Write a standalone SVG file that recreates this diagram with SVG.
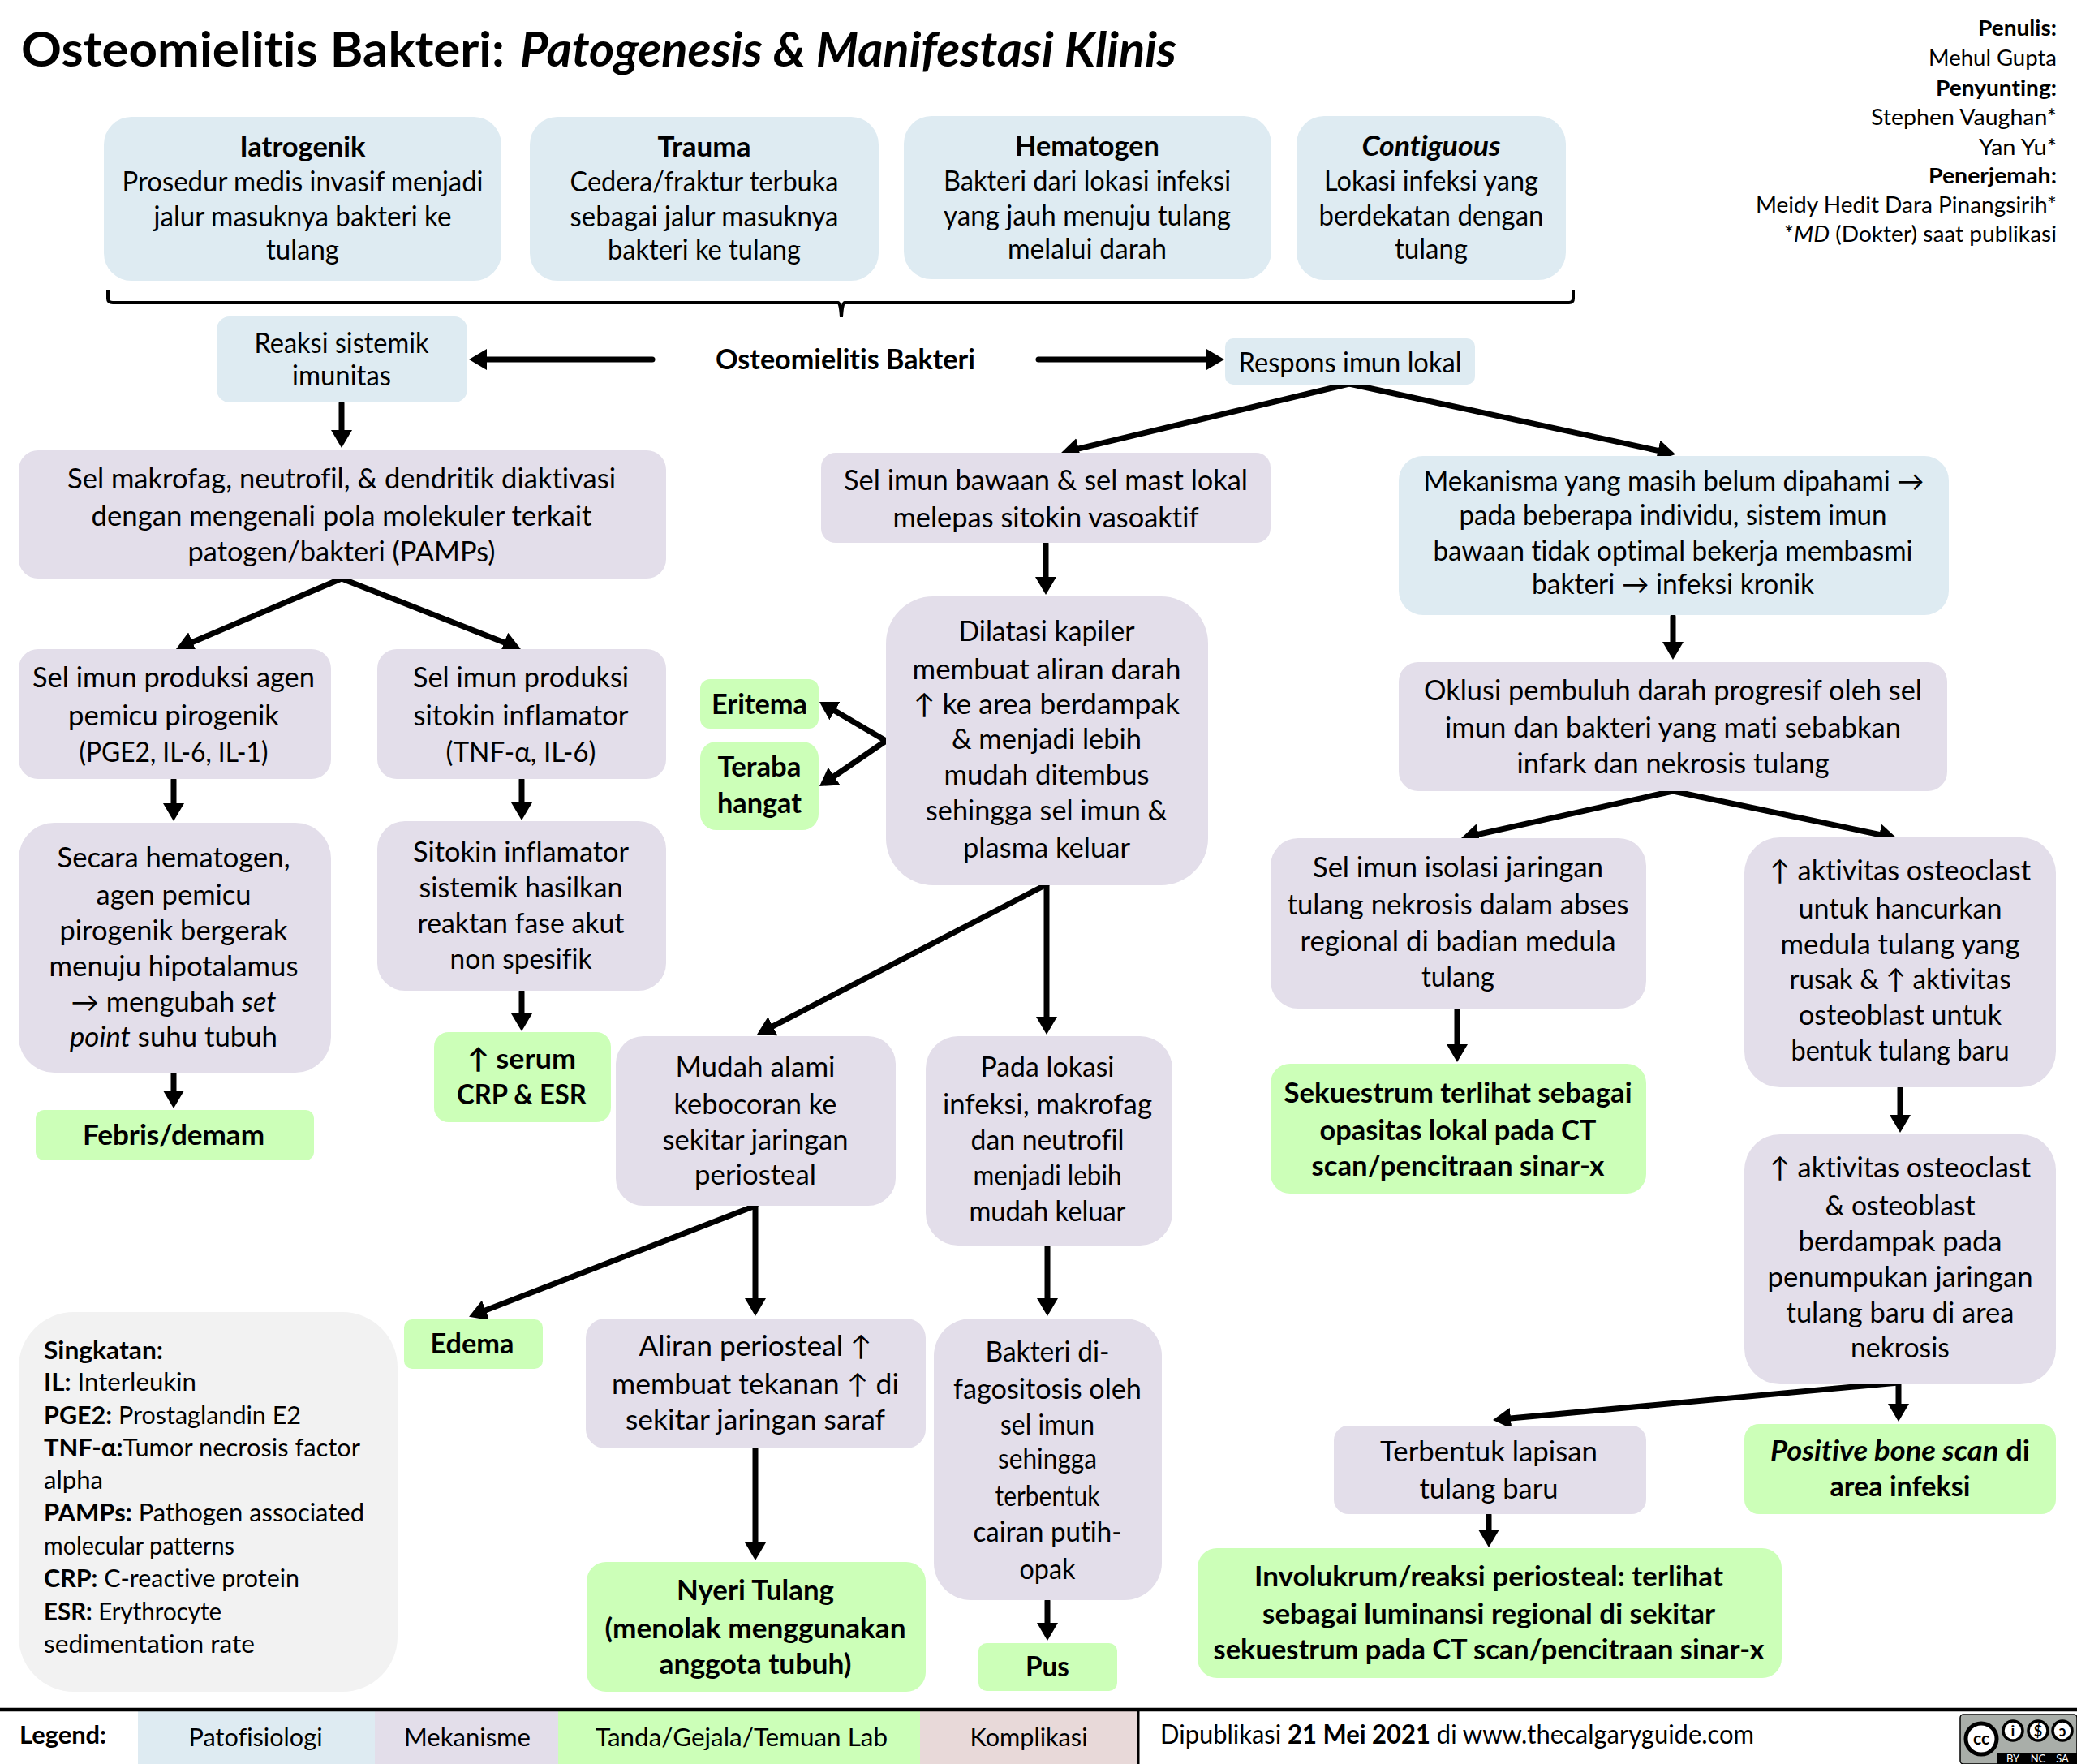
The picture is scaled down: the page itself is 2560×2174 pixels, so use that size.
<svg xmlns="http://www.w3.org/2000/svg" width="2560" height="2174" viewBox="0 0 2560 2174">
<style>
text{font-family:"Lato","Liberation Sans","DejaVu Sans",sans-serif;font-size:34px;fill:#000;text-anchor:middle;font-variant-ligatures:none}
.b,.bt{font-weight:700}
.i{font-style:italic}
.bi{font-weight:700;font-style:italic}
.l{text-anchor:start}
.r{text-anchor:end;font-size:27px}
.s{font-size:30px;text-anchor:start}
.blue{fill:#deebf2}.pur{fill:#e3deea}.grn{fill:#ccffb8}.red{fill:#e8d9d9}.gry{fill:#f2f2f2}
.c{fill:none;stroke:#000;stroke-width:7;stroke-linecap:round;marker-end:url(#ah)}
.k{fill:none;stroke:#000;stroke-width:4}
.w{fill:#fff;stroke:#000;stroke-width:3.5}
</style>
<defs>
<marker id="ah" markerUnits="userSpaceOnUse" markerWidth="24" markerHeight="26" refX="6" refY="13" orient="auto"><path d="M0,0L22,13L0,26z" fill="#000"/></marker>
</defs>
<rect width="2560" height="2174" fill="#fff"/>

<g id="title">
<text x="26" y="82" class="l b" style="font-size:60px" textLength="596" lengthAdjust="spacingAndGlyphs">Osteomielitis Bakteri:</text>
<text x="641" y="82" class="l bi" style="font-size:60px" textLength="809" lengthAdjust="spacingAndGlyphs">Patogenesis &amp; Manifestasi Klinis</text>
</g>

<g id="credits">
<text x="2535" y="44" class="r b" textLength="97" lengthAdjust="spacingAndGlyphs">Penulis:</text>
<text x="2535" y="81" class="r" textLength="158" lengthAdjust="spacingAndGlyphs">Mehul Gupta</text>
<text x="2535" y="118" class="r b" textLength="149" lengthAdjust="spacingAndGlyphs">Penyunting:</text>
<text x="2535" y="154" class="r" textLength="229" lengthAdjust="spacingAndGlyphs">Stephen Vaughan*</text>
<text x="2535" y="191" class="r" textLength="96" lengthAdjust="spacingAndGlyphs">Yan Yu*</text>
<text x="2535" y="226" class="r b" textLength="158" lengthAdjust="spacingAndGlyphs">Penerjemah:</text>
<text x="2535" y="262" class="r" textLength="371" lengthAdjust="spacingAndGlyphs">Meidy Hedit Dara Pinangsirih*</text>
<text x="2535" y="298" class="r" textLength="336" lengthAdjust="spacingAndGlyphs">*<tspan class="i">MD</tspan> (Dokter) saat publikasi</text>
</g>

<g id="connectors">
<path class="k" d="M133,357V368Q133,373 139,373H1033Q1036,373 1037,391Q1038,373 1041,373H1934Q1939,373 1939,368V357"/>
<path class="c" d="M804,443H594"/>
<path class="c" d="M1280,443H1493"/>
<path class="c" d="M1663,473L1323.6,554.3"/>
<path class="c" d="M1663,473L2049.4,556.6"/>
<path class="c" d="M421,497V536"/>
<path class="c" d="M421,713L231.7,793.7"/>
<path class="c" d="M421,713L627,794"/>
<path class="c" d="M214,961V996"/>
<path class="c" d="M643,961V995"/>
<path class="c" d="M214,1323V1350"/>
<path class="c" d="M643,1222V1255"/>
<path class="c" d="M1289,670V717"/>
<path class="c" d="M1092,913L1023.8,873.1"/>
<path class="c" d="M1092,913L1023.2,960"/>
<path class="c" d="M1290,1090L947.2,1267.6"/>
<path class="c" d="M1290,1090V1259"/>
<path class="c" d="M931,1486L593,1617"/>
<path class="c" d="M931,1486V1606"/>
<path class="c" d="M931,1785V1907"/>
<path class="c" d="M1291,1536V1606"/>
<path class="c" d="M1291,1973V2006"/>
<path class="c" d="M2062,760V797"/>
<path class="c" d="M2062,975L1816.6,1029.5"/>
<path class="c" d="M2062,975L2322.3,1029.7"/>
<path class="c" d="M1796,1244V1293"/>
<path class="c" d="M2342,1341V1380"/>
<path class="c" d="M2340,1704L1856,1748.5"/>
<path class="c" d="M2340,1704V1736"/>
<path class="c" d="M1835,1867V1891"/>
</g>

<g id="n-iatrogenik"><rect class="blue" x="128" y="144" width="490" height="202" rx="34"/>
<text x="373" y="193" class="b" textLength="155" lengthAdjust="spacingAndGlyphs">Iatrogenik</text>
<text x="373" y="236" textLength="445" lengthAdjust="spacingAndGlyphs">Prosedur medis invasif menjadi</text>
<text x="373" y="279" textLength="367" lengthAdjust="spacingAndGlyphs">jalur masuknya bakteri ke</text>
<text x="373" y="320" textLength="90" lengthAdjust="spacingAndGlyphs">tulang</text></g>

<g id="n-trauma"><rect class="blue" x="653" y="144" width="430" height="202" rx="34"/>
<text x="868" y="193" class="b" textLength="115" lengthAdjust="spacingAndGlyphs">Trauma</text>
<text x="868" y="236" textLength="331" lengthAdjust="spacingAndGlyphs">Cedera/fraktur terbuka</text>
<text x="868" y="279" textLength="331" lengthAdjust="spacingAndGlyphs">sebagai jalur masuknya</text>
<text x="868" y="320" textLength="238" lengthAdjust="spacingAndGlyphs">bakteri ke tulang</text></g>

<g id="n-hematogen"><rect class="blue" x="1114" y="143" width="453" height="201" rx="34"/>
<text x="1340" y="192" class="b" textLength="178" lengthAdjust="spacingAndGlyphs">Hematogen</text>
<text x="1340" y="235" textLength="354" lengthAdjust="spacingAndGlyphs">Bakteri dari lokasi infeksi</text>
<text x="1340" y="278" textLength="354" lengthAdjust="spacingAndGlyphs">yang jauh menuju tulang</text>
<text x="1340" y="319" textLength="196" lengthAdjust="spacingAndGlyphs">melalui darah</text></g>

<g id="n-contiguous"><rect class="blue" x="1598" y="143" width="332" height="202" rx="34"/>
<text x="1764" y="192" class="bi" textLength="171" lengthAdjust="spacingAndGlyphs">Contiguous</text>
<text x="1764" y="235" textLength="264" lengthAdjust="spacingAndGlyphs">Lokasi infeksi yang</text>
<text x="1764" y="278" textLength="277" lengthAdjust="spacingAndGlyphs">berdekatan dengan</text>
<text x="1764" y="319" textLength="90" lengthAdjust="spacingAndGlyphs">tulang</text></g>

<g id="n-reaksi"><rect class="blue" x="267" y="390" width="309" height="106" rx="16"/>
<text x="421" y="435" textLength="215" lengthAdjust="spacingAndGlyphs">Reaksi sistemik</text>
<text x="421" y="475" textLength="122" lengthAdjust="spacingAndGlyphs">imunitas</text></g>

<g id="n-osteo"><text x="1042" y="455" class="b" textLength="320" lengthAdjust="spacingAndGlyphs">Osteomielitis Bakteri</text></g>

<g id="n-respons"><rect class="blue" x="1510" y="417" width="308" height="57" rx="10"/>
<text x="1664" y="459" textLength="275" lengthAdjust="spacingAndGlyphs">Respons imun lokal</text></g>

<g id="n-makrofag"><rect class="pur" x="23" y="555" width="798" height="158" rx="24"/>
<text x="421" y="602" textLength="676" lengthAdjust="spacingAndGlyphs">Sel makrofag, neutrofil, &amp; dendritik diaktivasi</text>
<text x="421" y="648" textLength="617" lengthAdjust="spacingAndGlyphs">dengan mengenali pola molekuler terkait</text>
<text x="421" y="692" textLength="379" lengthAdjust="spacingAndGlyphs">patogen/bakteri (PAMPs)</text></g>

<g id="n-bawaan"><rect class="pur" x="1012" y="558" width="554" height="111" rx="18"/>
<text x="1289" y="604" textLength="498" lengthAdjust="spacingAndGlyphs">Sel imun bawaan &amp; sel mast lokal</text>
<text x="1289" y="650" textLength="377" lengthAdjust="spacingAndGlyphs">melepas sitokin vasoaktif</text></g>

<g id="n-mekanisma"><rect class="blue" x="1724" y="562" width="678" height="196" rx="30"/>
<text x="2063" y="605" textLength="617" lengthAdjust="spacingAndGlyphs">Mekanisma yang masih belum dipahami →</text>
<text x="2062" y="647" textLength="527" lengthAdjust="spacingAndGlyphs">pada beberapa individu, sistem imun</text>
<text x="2062" y="691" textLength="591" lengthAdjust="spacingAndGlyphs">bawaan tidak optimal bekerja membasmi</text>
<text x="2062" y="732" textLength="348" lengthAdjust="spacingAndGlyphs">bakteri → infeksi kronik</text></g>

<g id="n-pirogenik"><rect class="pur" x="23" y="800" width="385" height="160" rx="24"/>
<text x="214" y="847" textLength="348" lengthAdjust="spacingAndGlyphs">Sel imun produksi agen</text>
<text x="214" y="894" textLength="260" lengthAdjust="spacingAndGlyphs">pemicu pirogenik</text>
<text x="214" y="939" textLength="233" lengthAdjust="spacingAndGlyphs">(PGE2, IL-6, IL-1)</text></g>

<g id="n-sitokin"><rect class="pur" x="465" y="800" width="356" height="160" rx="24"/>
<text x="642" y="847" textLength="266" lengthAdjust="spacingAndGlyphs">Sel imun produksi</text>
<text x="642" y="894" textLength="265" lengthAdjust="spacingAndGlyphs">sitokin inflamator</text>
<text x="642" y="939" textLength="185" lengthAdjust="spacingAndGlyphs">(TNF-α, IL-6)</text></g>

<g id="n-secara"><rect class="pur" x="23" y="1014" width="385" height="308" rx="44"/>
<text x="214" y="1069" textLength="287" lengthAdjust="spacingAndGlyphs">Secara hematogen,</text>
<text x="214" y="1115" textLength="191" lengthAdjust="spacingAndGlyphs">agen pemicu</text>
<text x="214" y="1159" textLength="281" lengthAdjust="spacingAndGlyphs">pirogenik bergerak</text>
<text x="214" y="1203" textLength="307" lengthAdjust="spacingAndGlyphs">menuju hipotalamus</text>
<text x="214" y="1247" textLength="253" lengthAdjust="spacingAndGlyphs">→ mengubah <tspan class="i">set</tspan></text>
<text x="214" y="1290" textLength="256" lengthAdjust="spacingAndGlyphs"><tspan class="i">point</tspan> suhu tubuh</text></g>

<g id="n-febris"><rect class="grn" x="44" y="1368" width="343" height="62" rx="10"/>
<text x="214" y="1411" class="b" textLength="224" lengthAdjust="spacingAndGlyphs">Febris/demam</text></g>

<g id="n-sistemik"><rect class="pur" x="465" y="1012" width="356" height="209" rx="34"/>
<text x="642" y="1062" textLength="266" lengthAdjust="spacingAndGlyphs">Sitokin inflamator</text>
<text x="642" y="1106" textLength="251" lengthAdjust="spacingAndGlyphs">sistemik hasilkan</text>
<text x="642" y="1150" textLength="255" lengthAdjust="spacingAndGlyphs">reaktan fase akut</text>
<text x="642" y="1194" textLength="175" lengthAdjust="spacingAndGlyphs">non spesifik</text></g>

<g id="n-serum"><rect class="grn" x="535" y="1272" width="218" height="111" rx="18"/>
<text x="643" y="1317" class="b" textLength="134" lengthAdjust="spacingAndGlyphs">↑ serum</text>
<text x="643" y="1361" class="b" textLength="160" lengthAdjust="spacingAndGlyphs">CRP &amp; ESR</text></g>

<g id="n-eritema"><rect class="grn" x="863" y="837" width="146" height="61" rx="12"/>
<text x="936" y="880" class="b" textLength="118" lengthAdjust="spacingAndGlyphs">Eritema</text></g>

<g id="n-teraba"><rect class="grn" x="863" y="914" width="146" height="109" rx="20"/>
<text x="936" y="957" class="b" textLength="103" lengthAdjust="spacingAndGlyphs">Teraba</text>
<text x="936" y="1002" class="b" textLength="104" lengthAdjust="spacingAndGlyphs">hangat</text></g>

<g id="n-dilatasi"><rect class="pur" x="1092" y="735" width="397" height="356" rx="58"/>
<text x="1290" y="790" textLength="217" lengthAdjust="spacingAndGlyphs">Dilatasi kapiler</text>
<text x="1290" y="837" textLength="331" lengthAdjust="spacingAndGlyphs">membuat aliran darah</text>
<text x="1290" y="880" textLength="328" lengthAdjust="spacingAndGlyphs">↑ ke area berdampak</text>
<text x="1290" y="923" textLength="234" lengthAdjust="spacingAndGlyphs">&amp; menjadi lebih</text>
<text x="1290" y="967" textLength="253" lengthAdjust="spacingAndGlyphs">mudah ditembus</text>
<text x="1290" y="1011" textLength="298" lengthAdjust="spacingAndGlyphs">sehingga sel imun &amp;</text>
<text x="1290" y="1057" textLength="206" lengthAdjust="spacingAndGlyphs">plasma keluar</text></g>

<g id="n-mudah"><rect class="pur" x="759" y="1277" width="345" height="209" rx="34"/>
<text x="931" y="1327" textLength="197" lengthAdjust="spacingAndGlyphs">Mudah alami</text>
<text x="931" y="1373" textLength="201" lengthAdjust="spacingAndGlyphs">kebocoran ke</text>
<text x="931" y="1417" textLength="229" lengthAdjust="spacingAndGlyphs">sekitar jaringan</text>
<text x="931" y="1460" textLength="150" lengthAdjust="spacingAndGlyphs">periosteal</text></g>

<g id="n-pada"><rect class="pur" x="1141" y="1277" width="304" height="258" rx="40"/>
<text x="1291" y="1327" textLength="165" lengthAdjust="spacingAndGlyphs">Pada lokasi</text>
<text x="1291" y="1373" textLength="258" lengthAdjust="spacingAndGlyphs">infeksi, makrofag</text>
<text x="1291" y="1417" textLength="189" lengthAdjust="spacingAndGlyphs">dan neutrofil</text>
<text x="1291" y="1461" textLength="183" lengthAdjust="spacingAndGlyphs">menjadi lebih</text>
<text x="1291" y="1505" textLength="193" lengthAdjust="spacingAndGlyphs">mudah keluar</text></g>

<g id="n-edema"><rect class="grn" x="498" y="1626" width="171" height="61" rx="10"/>
<text x="582" y="1668" class="b" textLength="103" lengthAdjust="spacingAndGlyphs">Edema</text></g>

<g id="n-aliran"><rect class="pur" x="722" y="1625" width="419" height="160" rx="24"/>
<text x="931" y="1671" textLength="287" lengthAdjust="spacingAndGlyphs">Aliran periosteal ↑</text>
<text x="931" y="1718" textLength="354" lengthAdjust="spacingAndGlyphs">membuat tekanan ↑ di</text>
<text x="931" y="1762" textLength="320" lengthAdjust="spacingAndGlyphs">sekitar jaringan saraf</text></g>

<g id="n-nyeri"><rect class="grn" x="723" y="1925" width="418" height="160" rx="24"/>
<text x="931" y="1972" class="b" textLength="194" lengthAdjust="spacingAndGlyphs">Nyeri Tulang</text>
<text x="931" y="2019" class="b" textLength="371" lengthAdjust="spacingAndGlyphs">(menolak menggunakan</text>
<text x="931" y="2063" class="b" textLength="237" lengthAdjust="spacingAndGlyphs">anggota tubuh)</text></g>

<g id="n-fagositosis"><rect class="pur" x="1151" y="1625" width="281" height="347" rx="46"/>
<text x="1291" y="1678" textLength="153" lengthAdjust="spacingAndGlyphs">Bakteri di-</text>
<text x="1291" y="1724" textLength="232" lengthAdjust="spacingAndGlyphs">fagositosis oleh</text>
<text x="1291" y="1768" textLength="116" lengthAdjust="spacingAndGlyphs">sel imun</text>
<text x="1291" y="1810" textLength="122" lengthAdjust="spacingAndGlyphs">sehingga</text>
<text x="1291" y="1856" textLength="129" lengthAdjust="spacingAndGlyphs">terbentuk</text>
<text x="1291" y="1900" textLength="183" lengthAdjust="spacingAndGlyphs">cairan putih-</text>
<text x="1291" y="1946" textLength="69" lengthAdjust="spacingAndGlyphs">opak</text></g>

<g id="n-pus"><rect class="grn" x="1206" y="2025" width="171" height="59" rx="10"/>
<text x="1291" y="2066" class="b" textLength="54" lengthAdjust="spacingAndGlyphs">Pus</text></g>

<g id="n-singkatan"><rect class="gry" x="23" y="1617" width="467" height="468" rx="68"/>
<text x="54" y="1675" class="s b" textLength="147" lengthAdjust="spacingAndGlyphs">Singkatan:</text>
<text x="54" y="1714" class="s" textLength="188" lengthAdjust="spacingAndGlyphs"><tspan class="b">IL:</tspan> Interleukin</text>
<text x="54" y="1755" class="s" textLength="317" lengthAdjust="spacingAndGlyphs"><tspan class="b">PGE2:</tspan> Prostaglandin E2</text>
<text x="54" y="1795" class="s" textLength="390" lengthAdjust="spacingAndGlyphs"><tspan class="b">TNF-α:</tspan>Tumor necrosis factor</text>
<text x="54" y="1835" class="s" textLength="73" lengthAdjust="spacingAndGlyphs">alpha</text>
<text x="54" y="1875" class="s" textLength="395" lengthAdjust="spacingAndGlyphs"><tspan class="b">PAMPs:</tspan> Pathogen associated</text>
<text x="54" y="1916" class="s" textLength="235" lengthAdjust="spacingAndGlyphs">molecular patterns</text>
<text x="54" y="1956" class="s" textLength="315" lengthAdjust="spacingAndGlyphs"><tspan class="b">CRP:</tspan> C-reactive protein</text>
<text x="54" y="1997" class="s" textLength="219" lengthAdjust="spacingAndGlyphs"><tspan class="b">ESR:</tspan> Erythrocyte</text>
<text x="54" y="2037" class="s" textLength="260" lengthAdjust="spacingAndGlyphs">sedimentation rate</text></g>

<g id="n-oklusi"><rect class="pur" x="1724" y="816" width="676" height="159" rx="24"/>
<text x="2062" y="863" textLength="614" lengthAdjust="spacingAndGlyphs">Oklusi pembuluh darah progresif oleh sel</text>
<text x="2062" y="909" textLength="562" lengthAdjust="spacingAndGlyphs">imun dan bakteri yang mati sebabkan</text>
<text x="2062" y="953" textLength="385" lengthAdjust="spacingAndGlyphs">infark dan nekrosis tulang</text></g>

<g id="n-isolasi"><rect class="pur" x="1566" y="1033" width="463" height="210" rx="34"/>
<text x="1797" y="1081" textLength="358" lengthAdjust="spacingAndGlyphs">Sel imun isolasi jaringan</text>
<text x="1797" y="1127" textLength="421" lengthAdjust="spacingAndGlyphs">tulang nekrosis dalam abses</text>
<text x="1797" y="1172" textLength="389" lengthAdjust="spacingAndGlyphs">regional di badian medula</text>
<text x="1797" y="1216" textLength="90" lengthAdjust="spacingAndGlyphs">tulang</text></g>

<g id="n-sekuestrum"><rect class="grn" x="1566" y="1311" width="463" height="160" rx="24"/>
<text x="1797" y="1359" class="b" textLength="429" lengthAdjust="spacingAndGlyphs">Sekuestrum terlihat sebagai</text>
<text x="1797" y="1405" class="b" textLength="341" lengthAdjust="spacingAndGlyphs">opasitas lokal pada CT</text>
<text x="1797" y="1449" class="b" textLength="361" lengthAdjust="spacingAndGlyphs">scan/pencitraan sinar-x</text></g>

<g id="n-osteoclast1"><rect class="pur" x="2150" y="1032" width="384" height="308" rx="44"/>
<text x="2342" y="1085" textLength="322" lengthAdjust="spacingAndGlyphs">↑ aktivitas osteoclast</text>
<text x="2342" y="1132" textLength="251" lengthAdjust="spacingAndGlyphs">untuk hancurkan</text>
<text x="2342" y="1176" textLength="295" lengthAdjust="spacingAndGlyphs">medula tulang yang</text>
<text x="2342" y="1219" textLength="273" lengthAdjust="spacingAndGlyphs">rusak &amp; ↑ aktivitas</text>
<text x="2342" y="1263" textLength="250" lengthAdjust="spacingAndGlyphs">osteoblast untuk</text>
<text x="2342" y="1307" textLength="269" lengthAdjust="spacingAndGlyphs">bentuk tulang baru</text></g>

<g id="n-osteoclast2"><rect class="pur" x="2150" y="1398" width="384" height="308" rx="44"/>
<text x="2342" y="1451" textLength="322" lengthAdjust="spacingAndGlyphs">↑ aktivitas osteoclast</text>
<text x="2342" y="1498" textLength="185" lengthAdjust="spacingAndGlyphs">&amp; osteoblast</text>
<text x="2342" y="1542" textLength="251" lengthAdjust="spacingAndGlyphs">berdampak pada</text>
<text x="2342" y="1586" textLength="327" lengthAdjust="spacingAndGlyphs">penumpukan jaringan</text>
<text x="2342" y="1630" textLength="281" lengthAdjust="spacingAndGlyphs">tulang baru di area</text>
<text x="2342" y="1673" textLength="122" lengthAdjust="spacingAndGlyphs">nekrosis</text></g>

<g id="n-positive"><rect class="grn" x="2150" y="1755" width="384" height="111" rx="18"/>
<text x="2342" y="1800" class="b" textLength="320" lengthAdjust="spacingAndGlyphs"><tspan class="bi">Positive bone scan</tspan> di</text>
<text x="2342" y="1844" class="b" textLength="173" lengthAdjust="spacingAndGlyphs">area infeksi</text></g>

<g id="n-terbentuk"><rect class="pur" x="1644" y="1757" width="385" height="109" rx="18"/>
<text x="1835" y="1801" textLength="268" lengthAdjust="spacingAndGlyphs">Terbentuk lapisan</text>
<text x="1835" y="1847" textLength="171" lengthAdjust="spacingAndGlyphs">tulang baru</text></g>

<g id="n-involukrum"><rect class="grn" x="1476" y="1908" width="720" height="160" rx="24"/>
<text x="1835" y="1955" class="b" textLength="578" lengthAdjust="spacingAndGlyphs">Involukrum/reaksi periosteal: terlihat</text>
<text x="1835" y="2001" class="b" textLength="558" lengthAdjust="spacingAndGlyphs">sebagai luminansi regional di sekitar</text>
<text x="1835" y="2045" class="b" textLength="679" lengthAdjust="spacingAndGlyphs">sekuestrum pada CT scan/pencitraan sinar-x</text></g>

<g id="legend">
<rect class="blue" x="170" y="2109" width="292" height="65"/>
<rect class="pur" x="462" y="2109" width="226" height="65"/>
<rect class="grn" x="688" y="2109" width="446" height="65"/>
<rect class="red" x="1134" y="2109" width="269" height="65"/>
<path d="M0,2107H2560" stroke="#000" stroke-width="4.5" fill="none"/>
<path d="M1403,2107V2174" stroke="#000" stroke-width="3" fill="none"/>
<text x="24" y="2149" class="l b" style="font-size:30px" textLength="107" lengthAdjust="spacingAndGlyphs">Legend:</text>
<text x="315" y="2152" style="font-size:31px" textLength="165" lengthAdjust="spacingAndGlyphs">Patofisiologi</text>
<text x="576" y="2152" style="font-size:31px" textLength="156" lengthAdjust="spacingAndGlyphs">Mekanisme</text>
<text x="914" y="2152" style="font-size:31px" textLength="360" lengthAdjust="spacingAndGlyphs">Tanda/Gejala/Temuan Lab</text>
<text x="1268" y="2152" style="font-size:31px" textLength="145" lengthAdjust="spacingAndGlyphs">Komplikasi</text>
<text x="1430" y="2149" class="l" style="font-size:32px" textLength="732" lengthAdjust="spacingAndGlyphs">Dipublikasi <tspan class="b">21 Mei 2021</tspan> di www.thecalgaryguide.com</text>
</g>

<g id="cc-badge">
<rect x="2416" y="2113" width="144" height="61" rx="4" fill="#a9aea9" stroke="#000" stroke-width="1.5"/>
<path d="M2462,2174V2160H2560V2174Z" fill="#000"/>
<circle cx="2442" cy="2143" r="19" class="w" style="stroke-width:5"/>
<text x="2442" y="2150" class="b" style="font-size:21px">cc</text>
<circle cx="2481" cy="2133" r="12" class="w"/>
<text x="2481" y="2140" class="b" style="font-size:19px">i</text>
<circle cx="2512" cy="2133" r="12" class="w"/>
<text x="2512" y="2140" class="b" style="font-size:18px">$</text>
<circle cx="2542" cy="2133" r="12" class="w"/>
<text x="2542" y="2140" class="b" style="font-size:18px">ↄ</text>
<text x="2481" y="2172" style="font-size:13px;fill:#fff">BY</text>
<text x="2512" y="2172" style="font-size:13px;fill:#fff">NC</text>
<text x="2542" y="2172" style="font-size:13px;fill:#fff">SA</text>
</g>
</svg>
